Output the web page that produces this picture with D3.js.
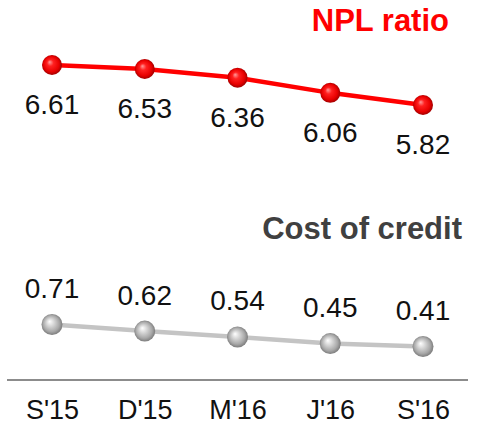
<!DOCTYPE html>
<html>
<head>
<meta charset="utf-8">
<script src="https://cdn.jsdelivr.net/npm/d3@7"></script>
<style>
  html, body { margin: 0; padding: 0; background: #fff; }
  svg { display: block; font-family: "Liberation Sans", Arial, sans-serif; }
</style>
</head>
<body>
<script>
// Quarter labels along the bottom axis
const periods = ["S'15", "D'15", "M'16", "J'16", "S'16"];
// NPL ratio (%)
const nplRatio = [6.61, 6.53, 6.36, 6.06, 5.82];
// Cost of credit (%)
const costOfCredit = [0.71, 0.62, 0.54, 0.45, 0.41];

const W = 485, H = 424;
const svg = d3.select("body").append("svg").attr("width", W).attr("height", H);

const defs = svg.append("defs");
function ballGradient(id, stops) {
  const g = defs.append("radialGradient").attr("id", id)
    .attr("cx", "50%").attr("cy", "50%").attr("r", "55%")
    .attr("fx", "38%").attr("fy", "35%");
  stops.forEach(([o, c]) => g.append("stop").attr("offset", o).attr("stop-color", c));
}
ballGradient("ballRed", [["0%", "#ff9a9a"], ["30%", "#ff2020"], ["70%", "#e80000"], ["100%", "#8a0000"]]);
ballGradient("ballGray", [["0%", "#ffffff"], ["30%", "#dadada"], ["70%", "#a8a8a8"], ["100%", "#6e6e6e"]]);

const x = d3.scalePoint().domain(periods).range([52, 423]);

// Each series gets its own vertical band
const yNpl = d3.scaleLinear().domain([5.82, 6.61]).range([105, 65]);
const yCost = d3.scaleLinear().domain([0.41, 0.71]).range([346.5, 324.5]);

// Baseline axis with period labels
const axis = d3.axisBottom(x).tickSize(0).tickPadding(0);
const axisG = svg.append("g").attr("transform", "translate(0,380)").call(axis);
axisG.select(".domain").remove();
axisG.append("line").attr("x1", 7).attr("x2", 468).attr("y1", 0).attr("y2", 0)
  .attr("stroke", "#8c8c8c").attr("stroke-width", 2);
axisG.selectAll(".tick text")
  .attr("font-family", "Liberation Sans, Arial, sans-serif")
  .attr("font-size", 27).attr("fill", "#111")
  .attr("dy", null).attr("y", 39);

function drawSeries(values, y, color, width, grad, r, labelDy) {
  const pts = values.map((v, i) => ({ p: periods[i], v }));
  svg.append("path").datum(pts)
    .attr("fill", "none").attr("stroke", color).attr("stroke-width", width)
    .attr("d", d3.line().x(d => x(d.p)).y(d => y(d.v)));
  svg.selectAll(null).data(pts).enter().append("circle")
    .attr("cx", d => x(d.p)).attr("cy", d => y(d.v)).attr("r", r)
    .attr("fill", `url(#${grad})`);
  svg.selectAll(null).data(pts).enter().append("text")
    .attr("x", d => x(d.p)).attr("y", d => y(d.v) + labelDy)
    .attr("text-anchor", "middle").attr("font-size", 28).attr("fill", "#111")
    .text(d => d.v.toFixed(2));
}

drawSeries(nplRatio, yNpl, "#ff0000", 4.5, "ballRed", 10, 49);
drawSeries(costOfCredit, yCost, "#c4c4c4", 4.5, "ballGray", 10.5, -26.5);

svg.append("text").attr("x", 449).attr("y", 31).attr("text-anchor", "end")
  .attr("font-size", 31).attr("font-weight", "bold").attr("fill", "#ff0000")
  .text("NPL ratio");
svg.append("text").attr("x", 462).attr("y", 239).attr("text-anchor", "end")
  .attr("font-size", 31).attr("font-weight", "bold").attr("fill", "#404040")
  .text("Cost of credit");
</script>
</body>
</html>
